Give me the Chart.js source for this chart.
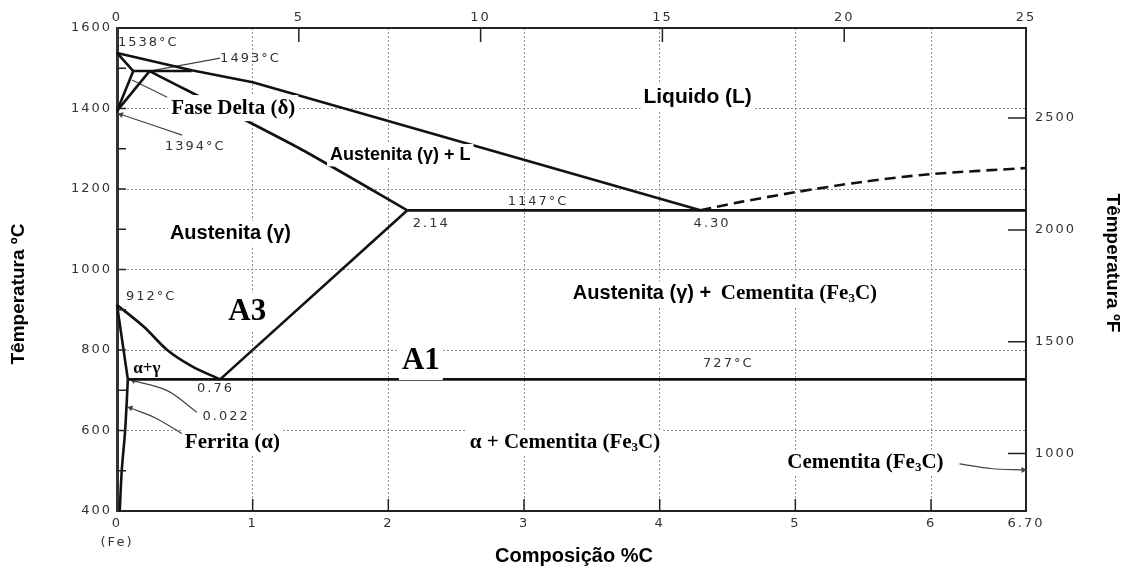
<!DOCTYPE html>
<html>
<head>
<meta charset="utf-8">
<script src="https://cdn.jsdelivr.net/npm/chart.js@4.4.0/dist/chart.umd.min.js"></script>
<style>
  html, body { margin: 0; padding: 0; background: #fff; }
  #wrap { width: 1124px; height: 567px; }
</style>
</head>
<body>
<div id="wrap"><canvas id="c"></canvas></div>
<script>
// Fe-Fe3C diagram: each boundary is a list of compositions (wt% C) and temperatures (°C)
const liqC = [0, 0.55, 1.0, 4.30];
const liqT = [1538, 1495, 1465, 1147];
const liqDashC = [4.30, 4.6, 5.0, 5.5, 6.0, 6.70];
const liqDashT = [1147, 1168, 1192, 1218, 1237, 1252];
const deltaSolC = [0, 0.12];
const deltaSolT = [1538, 1493];
const peritC = [0.12, 0.55];
const peritT = [1493, 1493];
const deltaC = [0.12, 0];
const deltaT = [1493, 1394];
const gammaTopC = [0.24, 0];
const gammaTopT = [1493, 1394];
const solidusC = [0.24, 1.35, 2.14];
const solidusT = [1493, 1300, 1147];
const eutecC = [2.14, 6.70];
const eutecT = [1147, 1147];
const acmC = [0.76, 2.14];
const acmT = [727, 1147];
const a3C = [0, 0.2, 0.37, 0.55, 0.76];
const a3T = [912, 857, 800, 760, 727];
const alphaC = [0, 0.08];
const alphaT = [912, 727];
const eutectoidC = [0.08, 6.70];
const eutectoidT = [727, 727];
const solvusC = [0.08, 0.06, 0.035, 0.02];
const solvusT = [727, 600, 500, 400];

// leader lines from the labels
const lead1493C = [0.76, 0.24];
const lead1493T = [1525, 1493];
const leadDeltaC = [0.37, 0.11];
const leadDeltaT = [1428, 1471];
const lead1394C = [0.48, 0.03];
const lead1394T = [1334, 1385];
const lead022C = [0.59, 0.37, 0.12];
const lead022T = [645, 699, 724];
const leadFerC = [0.48, 0.29, 0.10];
const leadFerT = [592, 630, 656];
const leadCemC = [6.21, 6.45, 6.68];
const leadCemT = [517, 505, 502];

// axes
const xTicks = [0, 1, 2, 3, 4, 5, 6, 6.7];
const yTicks = [400, 600, 800, 1000, 1200, 1400, 1600];
const yMinor = [500, 700, 900, 1100, 1300, 1500];
const topTicks = [0, 5, 10, 15, 20, 25];
const fTicks = [1000, 1500, 2000, 2500];
const fMin = 743, fMax = 2903;

const notes = [
  {text: '1538°C', c: 0.007, t: 1563, font: 'pix'},
  {text: '1493°C', c: 0.76, t: 1525, font: 'pix'},
  {text: 'Fase Delta (δ)', c: 0.40, t: 1401, font: 'serif', bg: true},
  {text: '1394°C', c: 0.354, t: 1306, font: 'pix'},
  {text: 'Liquido (L)', c: 3.88, t: 1428, font: 'sansL', bg: true},
  {text: 'Austenita (γ) + L', c: 1.57, t: 1284, font: 'sansS', bg: true},
  {text: '1147°C', c: 2.88, t: 1169, font: 'pix'},
  {text: '2.14', c: 2.18, t: 1115, font: 'pix'},
  {text: '4.30', c: 4.25, t: 1115, font: 'pix'},
  {text: 'Austenita (γ)', c: 0.39, t: 1090, font: 'sans', bg: true},
  {text: '912°C', c: 0.066, t: 933, font: 'pix'},
  {text: 'A3', c: 0.82, t: 895, font: 'serifXL', bg: true},
  {text: 'Austenita (γ) +', c: 3.36, t: 940, font: 'sans', bg: true},
  {text: 'Cementita (Fe₃C)', c: 4.45, t: 940, font: 'serif', bg: true},
  {text: 'A1', c: 2.10, t: 773, font: 'serifXL', bg: true},
  {text: '727°C', c: 4.32, t: 766, font: 'pix'},
  {text: 'α+γ', c: 0.12, t: 754, font: 'serifS'},
  {text: '0.76', c: 0.59, t: 704, font: 'pix'},
  {text: '0.022', c: 0.63, t: 634, font: 'pix'},
  {text: 'Ferrita (α)', c: 0.50, t: 569, font: 'serif', bg: true},
  {text: 'α + Cementita (Fe₃C)', c: 2.60, t: 569, font: 'serif', bg: true},
  {text: 'Cementita (Fe₃C)', c: 4.94, t: 520, font: 'serif', bg: true},
];

const fonts = {
  pix: {size: 13, f: '13px "DejaVu Sans"', color: '#333', sp: '2px'},
  serif: {size: 21, f: 'bold 21px "Liberation Serif"', color: '#000'},
  serifS: {size: 17, f: 'bold 17px "Liberation Serif"', color: '#000'},
  serifXL: {size: 31, f: 'bold 31px "Liberation Serif"', color: '#000'},
  sans: {size: 20, f: 'bold 20px "Liberation Sans"', color: '#000'},
  sansS: {size: 18, f: 'bold 18px "Liberation Sans"', color: '#000'},
  sansL: {size: 21, f: 'bold 21px "Liberation Sans"', color: '#000'},
};

const pts = (xs, ys) => xs.map((x, i) => ({x: x, y: ys[i]}));

function phase(xs, ys, extra) {
  return Object.assign({
    data: pts(xs, ys), showLine: true, borderColor: '#111', borderWidth: 2.6,
    pointRadius: 0, fill: false, tension: 0, clip: 6
  }, extra || {});
}

function leader(xs, ys, rot) {
  const n = xs.length;
  return {
    data: pts(xs, ys), showLine: true, borderColor: '#444', borderWidth: 1.2,
    tension: 0.35, fill: false, clip: 6,
    pointRadius: xs.map((_, i) => (rot !== undefined && i === n - 1) ? 3.5 : 0),
    pointStyle: 'triangle', pointRotation: rot || 0,
    pointBackgroundColor: '#444', pointBorderWidth: 0
  };
}

const datasets = [
  phase(liqC, liqT),
  phase(liqDashC, liqDashT, {borderDash: [11, 6], tension: 0.3}),
  phase(deltaSolC, deltaSolT),
  phase(peritC, peritT),
  phase(deltaC, deltaT),
  phase(gammaTopC, gammaTopT),
  phase(solidusC, solidusT, {tension: 0.2}),
  phase(eutecC, eutecT),
  phase(acmC, acmT),
  phase(a3C, a3T, {cubicInterpolationMode: 'monotone'}),
  phase(alphaC, alphaT),
  phase(eutectoidC, eutectoidT),
  phase(solvusC, solvusT, {tension: 0.3}),
  leader(lead1493C, lead1493T),
  leader(leadDeltaC, leadDeltaT),
  leader(lead1394C, lead1394T, -71),
  leader(lead022C, lead022T, -73),
  leader(leadFerC, leadFerT, -73),
  leader(leadCemC, leadCemT, 88),
];

const tickFont = {family: 'DejaVu Sans', size: 13};
const plain = v => String(v);

function drawNote(ctx, n, x, y) {
  const st = fonts[n.font];
  const parts = n.text.split('₃');
  const small = st.f.replace(st.size + 'px', Math.round(st.size * 0.62) + 'px');
  ctx.save();
  ctx.letterSpacing = st.sp || '0px';
  ctx.textBaseline = 'middle';
  ctx.textAlign = 'left';
  let w = 0;
  parts.forEach((p, i) => {
    ctx.font = st.f; w += ctx.measureText(p).width;
    if (i < parts.length - 1) { ctx.font = small; w += ctx.measureText('3').width; }
  });
  if (n.bg) {
    ctx.fillStyle = '#fff';
    ctx.fillRect(x - 3, y - st.size * 0.62, w + 6, st.size * 1.24);
  }
  ctx.fillStyle = st.color;
  let cx = x;
  parts.forEach((p, i) => {
    ctx.font = st.f; ctx.fillText(p, cx, y); cx += ctx.measureText(p).width;
    if (i < parts.length - 1) {
      ctx.font = small; ctx.fillText('3', cx, y + st.size * 0.22); cx += ctx.measureText('3').width;
    }
  });
  ctx.restore();
}

const decor = {
  id: 'decor',
  beforeDraw(chart) {
    chart.ctx.letterSpacing = '2px';
  },
  beforeDatasetsDraw(chart) {
    chart.ctx.letterSpacing = '0px';
  },
  afterDraw(chart) {
    const ctx = chart.ctx;
    const {x, y, x2, y2} = chart.scales;
    const a = chart.chartArea;
    ctx.save();
    ctx.letterSpacing = '0px';
    ctx.strokeStyle = '#222';
    ctx.lineWidth = 1.5;
    ctx.beginPath();
    xTicks.slice(1, 7).forEach(v => { const px = x.getPixelForValue(v); ctx.moveTo(px, a.bottom); ctx.lineTo(px, a.bottom - 12); });
    topTicks.slice(1, 5).forEach(v => { const px = x2.getPixelForValue(v); ctx.moveTo(px, a.top); ctx.lineTo(px, a.top + 14); });
    yMinor.concat(yTicks.slice(1, 6)).forEach(v => { const py = y.getPixelForValue(v); ctx.moveTo(a.left, py); ctx.lineTo(a.left + 9, py); });
    fTicks.forEach(v => { const py = y2.getPixelForValue(v); ctx.moveTo(a.right, py); ctx.lineTo(a.right - 18, py); });
    ctx.stroke();

    // axis titles
    ctx.fillStyle = '#000';
    ctx.font = 'bold 19px "Liberation Sans"';
    ctx.textAlign = 'center';
    ctx.textBaseline = 'middle';
    ctx.save(); ctx.translate(19, 294); ctx.rotate(-Math.PI / 2); ctx.fillText('Têmperatura ºC', 0, 0); ctx.restore();
    ctx.save(); ctx.translate(1112, 263); ctx.rotate(Math.PI / 2); ctx.fillText('Têmperatura ºF', 0, 0); ctx.restore();
    ctx.font = 'bold 20px "Liberation Sans"';
    ctx.fillText('Composição %C', 574, 556);
    ctx.restore();

    notes.forEach(n => drawNote(ctx, n, x.getPixelForValue(n.c), y.getPixelForValue(n.t)));
  }
};

new Chart(document.getElementById('c'), {
  type: 'scatter',
  data: {datasets: datasets},
  options: {
    responsive: true,
    maintainAspectRatio: false,
    animation: false,
    events: [],
    layout: {padding: 0},
    plugins: {legend: {display: false}, tooltip: {enabled: false}},
    scales: {
      x: {
        type: 'linear', position: 'bottom', min: 0, max: 6.7,
        afterBuildTicks: s => { s.ticks = xTicks.map(v => ({value: v})); },
        afterFit: s => { s.height = 56; },
        ticks: {
          font: Object.assign({lineHeight: 1.45}, tickFont), color: '#333', padding: 3,
          autoSkip: false, maxRotation: 0,
          callback: v => v === 0 ? ['0', '(Fe)'] : (v === 6.7 ? '6.70' : String(v))
        },
        grid: {
          drawTicks: false, lineWidth: 1,
          color: c => (c.tick && (c.tick.value === 0 || c.tick.value === 6.7)) ? 'rgba(0,0,0,0)' : '#8c8c8c'
        },
        border: {display: true, color: '#222', width: 2, dash: [2, 2]}
      },
      x2: {
        type: 'linear', position: 'top', min: 0, max: 25,
        afterBuildTicks: s => { s.ticks = topTicks.map(v => ({value: v})); },
        afterFit: s => { s.height = 28; },
        ticks: {font: tickFont, color: '#333', padding: 3, autoSkip: false, maxRotation: 0, callback: plain},
        grid: {display: false, drawTicks: false},
        border: {display: true, color: '#222', width: 2}
      },
      y: {
        type: 'linear', position: 'left', min: 400, max: 1600,
        afterBuildTicks: s => { s.ticks = yTicks.map(v => ({value: v})); },
        afterFit: s => { s.width = 117; },
        ticks: {font: tickFont, color: '#333', padding: 5, autoSkip: false, callback: plain},
        grid: {
          drawTicks: false, lineWidth: 1,
          color: c => (c.tick && (c.tick.value === 400 || c.tick.value === 1600)) ? 'rgba(0,0,0,0)' : '#8c8c8c'
        },
        border: {display: true, color: '#333', width: 3, dash: [2, 2]}
      },
      y2: {
        type: 'linear', position: 'right', min: fMin, max: fMax,
        afterBuildTicks: s => { s.ticks = fTicks.map(v => ({value: v})); },
        afterFit: s => { s.width = 98; },
        ticks: {font: tickFont, color: '#333', padding: 9, autoSkip: false, callback: plain},
        grid: {display: false, drawTicks: false},
        border: {display: true, color: '#222', width: 2}
      }
    }
  },
  plugins: [decor]
});
</script>
</body>
</html>
